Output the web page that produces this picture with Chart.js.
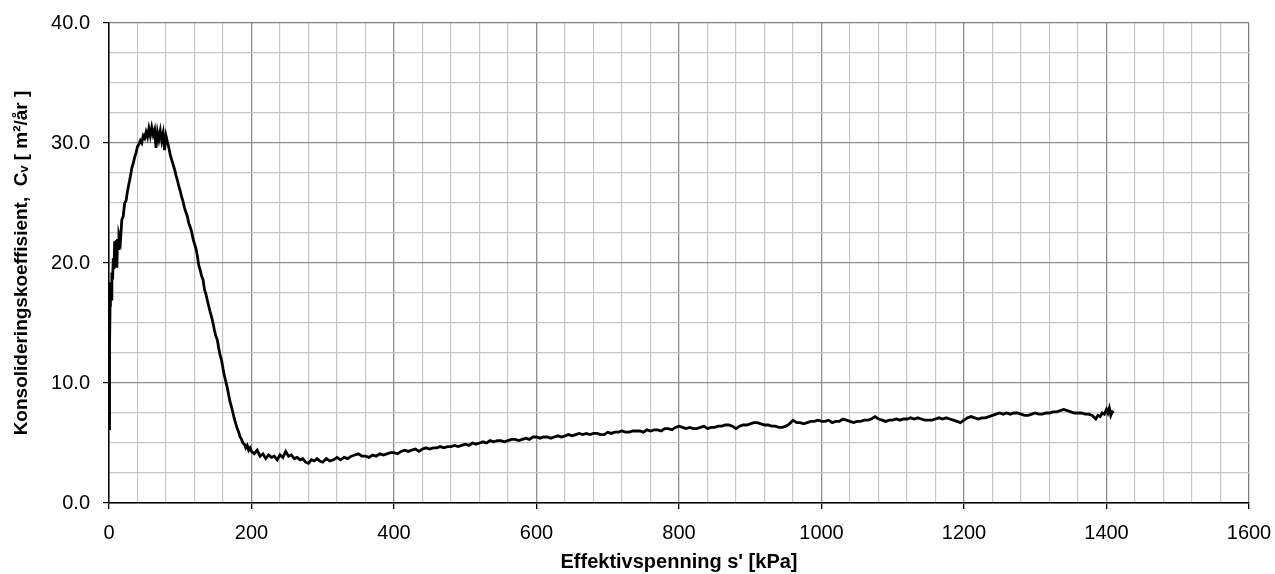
<!DOCTYPE html>
<html>
<head>
<meta charset="utf-8">
<script src="https://cdn.jsdelivr.net/npm/chart.js@4"></script>
<style>
  html, body { margin: 0; padding: 0; background: #fff; }
  #wrap { width: 1275px; height: 574px; }
</style>
</head>
<body>
<div id="wrap"><canvas id="graph" width="1275" height="574"></canvas></div>
<script>
// Effektivspenning [kPa]
const spenning = [
  0, 0.5, 1, 1.5, 2, 3, 4, 5, 6, 7, 8, 9, 10, 11, 12, 13, 14, 16, 18, 20,
  22, 24, 26, 28, 30, 32, 34, 36, 38, 40, 42, 44, 46, 48, 50, 52, 54, 56, 58, 60,
  62, 64, 66, 68, 70, 72, 74, 76, 78, 80, 82, 84, 86, 88, 90, 92, 94, 96, 98, 100,
  102, 104, 106, 108, 110, 112, 114, 116, 118, 120, 122, 124, 126, 128, 130, 132, 134, 136, 138, 140,
  142, 144, 146, 148, 150, 152, 154, 156, 158, 160, 162, 164, 166, 168, 170, 172, 174, 176, 178, 180,
  182, 184, 186, 188, 190, 192, 194, 196, 198, 200, 204, 208, 212, 216, 220, 224, 228, 232, 236, 240,
  244, 248, 252, 256, 260, 264, 268, 272, 276, 280, 284, 288, 292, 296, 300, 305, 310, 315, 320, 325,
  330, 335, 340, 345, 350, 355, 360, 365, 370, 375, 380, 385, 390, 395, 400, 405, 410, 415, 420, 425,
  430, 435, 440, 445, 450, 455, 460, 465, 470, 475, 480, 485, 490, 495, 500, 505, 510, 515, 520, 525,
  530, 535, 540, 545, 550, 555, 560, 565, 570, 575, 580, 585, 590, 595, 600, 605, 610, 615, 620, 625,
  630, 635, 640, 645, 650, 655, 660, 665, 670, 675, 680, 685, 690, 695, 700, 705, 710, 715, 720, 725,
  730, 735, 740, 745, 750, 755, 760, 765, 770, 775, 780, 785, 790, 795, 800, 805, 810, 815, 820, 825,
  830, 835, 840, 845, 850, 855, 860, 865, 870, 875, 880, 885, 890, 895, 900, 905, 910, 915, 920, 925,
  930, 935, 940, 945, 950, 955, 960, 965, 970, 975, 980, 985, 990, 995, 1000, 1005, 1010, 1015, 1020, 1025,
  1030, 1035, 1040, 1045, 1050, 1055, 1060, 1065, 1070, 1075, 1080, 1085, 1090, 1095, 1100, 1105, 1110, 1115, 1120, 1125,
  1130, 1135, 1140, 1145, 1150, 1155, 1160, 1165, 1170, 1175, 1180, 1185, 1190, 1195, 1200, 1205, 1210, 1215, 1220, 1225,
  1230, 1235, 1240, 1245, 1250, 1255, 1260, 1265, 1270, 1275, 1280, 1285, 1290, 1295, 1300, 1305, 1310, 1315, 1320, 1325,
  1330, 1335, 1340, 1345, 1350, 1355, 1360, 1365, 1370, 1375, 1380, 1385, 1388, 1391, 1394, 1397, 1400, 1402, 1404, 1406,
  1408, 1410
];

// Konsolideringskoeffisient Cv [m2/år]
const cv = [
  6.2, 9.5, 13.0, 16.5, 18.4, 17.0, 19.2, 18.6, 20.4, 19.5, 21.8, 20.2, 21.9, 19.6, 22.0, 21.2, 22.3, 21.8, 23.6, 23.9,
  25.0, 25.2, 26.0, 26.6, 27.2, 27.9, 28.3, 28.8, 29.2, 29.7, 29.9, 30.2, 30.0, 30.6, 30.4, 30.9, 30.5, 31.2, 30.6, 31.3,
  30.7, 31.1, 29.6, 30.9, 30.3, 31.0, 30.2, 30.8, 29.4, 30.6, 30.1, 29.6, 29.0, 28.6, 28.2, 27.8, 27.3, 26.9, 26.4, 26.0,
  25.5, 25.1, 24.6, 24.2, 23.9, 23.3, 23.0, 22.6, 22.0, 21.6, 21.2, 20.6, 19.8, 19.4, 18.9, 18.6, 17.8, 17.4, 16.9, 16.4,
  15.9, 15.5, 15.0, 14.4, 13.9, 13.6, 12.9, 12.3, 11.9, 11.2, 10.6, 10.1, 9.6, 9.0, 8.4, 8.0, 7.5, 7.0, 6.6, 6.2,
  5.9, 5.5, 5.3, 5.0, 4.9, 4.6, 4.8, 4.4, 4.6, 4.3, 4.1, 4.4, 3.9, 4.1, 3.7, 4.0, 3.8, 3.9, 3.6, 4.0,
  3.8, 4.3, 3.9, 4.0, 3.7, 3.8, 3.6, 3.7, 3.4, 3.3, 3.6, 3.5, 3.7, 3.5, 3.4, 3.7, 3.5, 3.6, 3.8, 3.6,
  3.8, 3.7, 3.9, 4.0, 4.1, 3.9, 3.9, 3.8, 4.0, 3.9, 4.1, 4.0, 4.1, 4.2, 4.2, 4.1, 4.3, 4.4, 4.3, 4.4,
  4.5, 4.3, 4.5, 4.6, 4.5, 4.6, 4.6, 4.7, 4.6, 4.7, 4.7, 4.8, 4.7, 4.8, 4.9, 4.8, 5.0, 4.9, 5.0, 5.1,
  5.0, 5.2, 5.1, 5.2, 5.2, 5.1, 5.2, 5.3, 5.3, 5.2, 5.3, 5.4, 5.3, 5.5, 5.5, 5.4, 5.5, 5.5, 5.4, 5.5,
  5.6, 5.5, 5.6, 5.7, 5.6, 5.7, 5.8, 5.7, 5.8, 5.7, 5.8, 5.8, 5.7, 5.7, 5.9, 5.8, 5.9, 5.9, 6.0, 5.9,
  5.9, 6.0, 6.0, 6.0, 5.9, 6.1, 6.0, 6.1, 6.1, 6.0, 6.2, 6.2, 6.1, 6.3, 6.4, 6.3, 6.2, 6.3, 6.2, 6.2,
  6.3, 6.4, 6.2, 6.3, 6.3, 6.4, 6.4, 6.5, 6.5, 6.4, 6.2, 6.4, 6.5, 6.5, 6.6, 6.7, 6.7, 6.6, 6.5, 6.5,
  6.4, 6.4, 6.3, 6.3, 6.4, 6.6, 6.9, 6.7, 6.7, 6.6, 6.7, 6.8, 6.8, 6.9, 6.8, 6.8, 6.9, 6.7, 6.8, 6.8,
  7.0, 6.9, 6.8, 6.7, 6.8, 6.8, 6.9, 6.9, 7.0, 7.2, 7.0, 6.9, 6.8, 6.9, 6.9, 7.0, 6.9, 7.0, 7.0, 7.1,
  7.0, 7.1, 7.0, 6.9, 6.9, 6.9, 7.0, 7.1, 7.0, 7.1, 7.0, 6.9, 6.8, 6.7, 6.9, 7.1, 7.2, 7.1, 7.0, 7.1,
  7.1, 7.2, 7.3, 7.4, 7.5, 7.4, 7.5, 7.4, 7.5, 7.5, 7.4, 7.3, 7.3, 7.4, 7.5, 7.4, 7.4, 7.5, 7.5, 7.6,
  7.6, 7.7, 7.8, 7.7, 7.6, 7.5, 7.5, 7.5, 7.4, 7.4, 7.3, 7.0, 7.3, 7.2, 7.5, 7.4, 7.8, 7.5, 7.9, 7.3,
  7.6, 7.5
];

const xTicks = [0, 200, 400, 600, 800, 1000, 1200, 1400, 1600];
const yTicks = [0, 10, 20, 30, 40];

const punkter = spenning.map((s, i) => ({ x: s, y: cv[i] }));

function gridFarge(verdi, hoved, maks) {
  if (verdi === maks) return '#7f7f7f';
  if (verdi % hoved === 0) return '#8c8c8c';
  return '#c6c6c6';
}

const graph = document.getElementById('graph');

var graphLinje = new Chart(graph, {
  type: 'line',
  data: {
    datasets: [{
      label: 'Cv',
      data: punkter,
      borderColor: '#000',
      borderWidth: 2.8,
      pointRadius: 0,
      tension: 0,
      fill: false
    }]
  },
  options: {
    responsive: false,
    animation: false,
    layout: {
      padding: { left: 0, top: 23, right: 26, bottom: 0 }
    },
    plugins: {
      legend: { display: false },
      tooltip: { enabled: false }
    },
    scales: {
      x: {
        type: 'linear',
        min: 0,
        max: 1600,
        afterFit: function (scale) {
          scale.height = 71;
          scale.paddingLeft = 0;
          scale.paddingRight = 0;
        },
        border: { display: true, color: '#000', width: 1.5 },
        grid: {
          color: (ctx) => gridFarge(ctx.tick.value, 200, 1600),
          lineWidth: (ctx) => ctx.tick.value % 200 === 0 ? 1.3 : 1.2,
          tickLength: 6,
          tickColor: (ctx) => ctx.tick.value % 200 === 0 ? '#000' : 'rgba(0,0,0,0)'
        },
        ticks: {
          stepSize: 40,
          autoSkip: false,
          maxRotation: 0,
          padding: 12,
          color: '#000',
          font: { family: 'Liberation Sans, Arial, sans-serif', size: 20 },
          callback: (v) => xTicks.includes(v) ? String(v) : ''
        },
        title: {
          display: true,
          text: "Effektivspenning s' [kPa]",
          color: '#000',
          padding: { top: 0, bottom: 0 },
          font: { family: 'Liberation Sans, Arial, sans-serif', size: 20, weight: 'bold' }
        }
      },
      y: {
        type: 'linear',
        min: 0,
        max: 40,
        afterFit: function (scale) {
          scale.width = 109;
          scale.paddingTop = 0;
          scale.paddingBottom = 0;
        },
        border: { display: true, color: '#000', width: 1.5 },
        grid: {
          color: (ctx) => gridFarge(ctx.tick.value, 10, 40),
          lineWidth: 1.2,
          tickLength: 6,
          tickColor: (ctx) => ctx.tick.value % 10 === 0 ? '#000' : 'rgba(0,0,0,0)'
        },
        ticks: {
          stepSize: 2.5,
          autoSkip: false,
          padding: 13,
          color: '#000',
          font: { family: 'Liberation Sans, Arial, sans-serif', size: 20 },
          callback: (v) => yTicks.includes(v) ? v.toFixed(1) : ''
        },
        title: {
          display: true,
          text: 'Konsolideringskoeffisient,  C\u1D65 [ m\u00B2/\u00E5r ]',
          color: '#000',
          padding: { top: 10, bottom: 0 },
          font: { family: 'Liberation Sans, Arial, sans-serif', size: 19, weight: 'bold' }
        }
      }
    }
  }
});
</script>
</body>
</html>
